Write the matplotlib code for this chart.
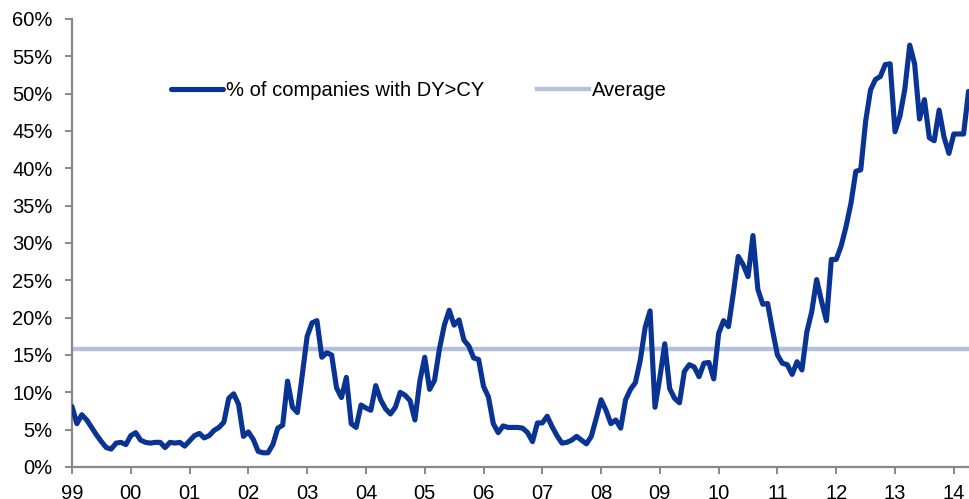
import numpy as np
from matplotlib import pyplot as plt

# monthly share of companies with dividend yield > credit yield, Jan 1999 .. Apr 2014 (%)
share_1999_2003 = [
    8.1, 5.8, 7.0, 6.3, 5.3, 4.3, 3.4, 2.6, 2.4, 3.2, 3.3, 3.0,       # 1999
    4.2, 4.6, 3.6, 3.3, 3.2, 3.3, 3.3, 2.6, 3.3, 3.2, 3.3, 2.8,       # 2000
    3.5, 4.2, 4.5, 3.9, 4.2, 4.9, 5.3, 6.0, 9.2, 9.8, 8.4, 4.1,       # 2001
    4.7, 3.7, 2.1, 1.9, 1.9, 3.0, 5.2, 5.6, 11.5, 8.0, 7.3, 12.3,     # 2002
    17.5, 19.3, 19.6, 14.7, 15.3, 15.0, 10.6, 9.3, 12.0, 5.8, 5.3, 8.3,  # 2003
]
share_2004_2008 = [
    7.9, 7.6, 10.9, 9.0, 7.8, 7.1, 8.0, 10.0, 9.6, 8.9, 6.3, 11.5,    # 2004
    14.7, 10.4, 11.6, 15.8, 19.0, 21.0, 19.0, 19.7, 17.0, 16.2, 14.6, 14.4,  # 2005
    10.8, 9.4, 5.8, 4.6, 5.5, 5.3, 5.3, 5.3, 5.2, 4.6, 3.4, 5.9,      # 2006
    5.9, 6.8, 5.4, 4.2, 3.2, 3.3, 3.6, 4.1, 3.6, 3.1, 4.1, 6.5,       # 2007
    9.0, 7.6, 5.8, 6.3, 5.2, 9.0, 10.4, 11.3, 14.3, 18.7, 20.9, 8.0,  # 2008
]
share_2009_2014 = [
    12.0, 16.5, 10.5, 9.2, 8.6, 12.8, 13.7, 13.4, 12.1, 13.9, 14.0, 11.8,   # 2009
    17.9, 19.6, 18.8, 23.3, 28.2, 27.1, 25.5, 31.0, 23.8, 21.8, 21.9, 18.3,  # 2010
    15.0, 13.9, 13.7, 12.4, 14.1, 13.0, 18.1, 20.8, 25.1, 22.2, 19.6, 27.8,  # 2011
    27.8, 29.6, 32.2, 35.3, 39.6, 39.8, 46.3, 50.5, 51.9, 52.3, 53.9, 54.0,  # 2012
    44.9, 47.0, 50.6, 56.5, 54.0, 46.6, 49.2, 44.1, 43.7, 47.8, 44.2, 42.0,  # 2013
    44.6, 44.6, 44.6, 50.3,                                                   # 2014
]
average_value = 15.8
year_labels = ["99", "00", "01", "02", "03", "04", "05", "06", "07",
               "08", "09", "10", "11", "12", "13", "14"]

share = np.array(share_1999_2003 + share_2004_2008 + share_2009_2014) / 100.0
months = np.arange(len(share))

plt.rcParams["font.family"] = ["Liberation Sans", "DejaVu Sans"]
plt.rcParams["font.size"] = 14.5

fig = plt.figure(figsize=(9.69, 4.99), dpi=100)
ax = fig.add_axes([72 / 969, 32 / 499, 1 - 72 / 969, (467 - 19) / 499])

ax.axhline(average_value / 100.0, color="#b3c1dd", linewidth=3.2, label="Average", zorder=2)
ax.plot(months, share, color="#0a3494", linewidth=3.7, solid_joinstyle="round",
        solid_capstyle="round", label="% of companies with DY>CY", zorder=3)

ax.set_xlim(0, len(share) - 0.9)
ax.set_ylim(0, 0.6)
ax.set_yticks(np.arange(0, 0.61, 0.05))
ax.set_yticklabels([f"{int(round(v * 100))}%" for v in np.arange(0, 0.61, 0.05)])
ax.set_xticks(np.arange(0, 12 * len(year_labels), 12))
ax.set_xticklabels(year_labels)

for side in ["top", "right"]:
    ax.spines[side].set_visible(False)
for side in ["left", "bottom"]:
    ax.spines[side].set_color("#888888")
    ax.spines[side].set_linewidth(1.6)
ax.tick_params(axis="y", direction="out", length=5, width=1.4, color="#888888", pad=9)
ax.tick_params(axis="x", direction="out", length=5, width=1.4, color="#888888", pad=7)

handles, labels = ax.get_legend_handles_labels()
ax.legend(handles[::-1], labels[::-1], ncol=2, frameon=False, loc="center left",
          bbox_to_anchor=(161 / 969, 1 - 91 / 499), bbox_transform=fig.transFigure,
          borderpad=0, handlelength=2.6, handletextpad=0.15, columnspacing=2.6,
          fontsize=14.5)

fig.savefig("out.png", dpi=100)
